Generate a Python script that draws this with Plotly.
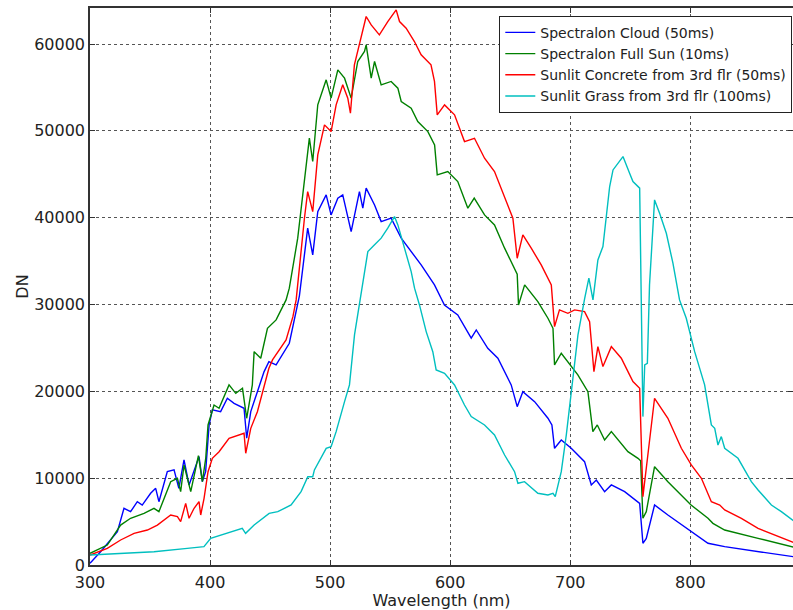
import plotly.graph_objects as go

# ---- data ----
cloud_wl = [300, 308.8, 322.8, 328.3, 333.8, 339.4, 343.5, 350.5, 354.7, 357.4, 364.4, 370, 374, 378.3, 382.5,
            390.8, 393.6, 396.3, 399.2, 401.9, 408.8, 414.4, 420, 428.3, 430.5, 433.9, 439.4, 445, 449, 455, 466,
            474.4, 481.3, 485.5, 489.7, 496.7, 500.8, 506.4, 510.5, 517.5, 524.4, 527.2, 530, 537, 542.5, 550.8,
            559.2, 567.5, 575.8, 586.9, 595.2, 606.3, 617.5, 621.7, 631.3, 639.7, 650.8, 655.8, 660.5, 670.3,
            681.4, 684.7, 686.9, 692.5, 700.8, 711.9, 717.5, 721.7, 728.6, 734.2, 745.3, 757.8, 760.5, 763.3,
            770.2, 781.3, 800.8, 814.7, 828.6, 856.4, 886]
cloud_dn = [200, 1530, 3840, 6530, 6140, 7290, 6900, 8260, 8830, 7290, 10750, 10950, 8830, 12100, 9220,
            12480, 9600, 10750, 16130, 17860, 17660, 19200, 18620, 18050, 14600, 17670, 19960, 22270, 23420, 23040, 25540,
            31000, 38790, 35710, 40700, 42630, 40320, 42250, 42630, 38400, 43010, 41090, 43400, 41470, 39550, 39940,
            37640, 36100, 34560, 32260, 29950, 28800, 26120, 27070, 24960, 23810, 20740, 18240, 19960, 18810,
            16900, 16130, 13440, 14400, 13440, 11900, 9220, 9790, 8450, 9220, 8450, 7100, 2500, 3070,
            6910, 5760, 3840, 2500, 2110, 1530, 950]

sun_wl = [300, 314.4, 325.5, 333.8, 345, 353.3, 357.4, 367.2, 372.8, 375.5, 378.3, 383.9, 390.3, 393.6, 396.4,
          398.3, 403.3, 407.5, 415.8, 421.4, 427, 430.5, 435.2, 436.7, 442.2, 447.8, 455, 463.3, 466, 473,
          482.7, 485.5, 489.7, 496.7, 500.8, 506.4, 512, 517.5, 523, 528.6, 530, 534.2, 537, 542.5, 550.8,
          556.4, 559.2, 567.5, 573, 581.4, 587, 589.2, 598, 606.3, 614.7, 620, 628.6, 636.9, 645.3, 653.6,
          655.8, 656.9, 662, 673, 681.4, 685.6, 686.9, 692.5, 698, 706.3, 714.7, 718.8, 722.5, 728.6, 734.2,
          748, 756.4, 758.6, 760.5, 763.3, 770.2, 781.3, 800.6, 814.7, 818.8, 828.6, 856.4, 886]
sun_dn = [1340, 2300, 4600, 5380, 5950, 6530, 6140, 9600, 9990, 8450, 11520, 8450, 12600, 9600, 12300,
          16130, 18430, 18050, 20740, 19770, 20350, 16900, 20740, 24570, 23810, 27260, 28230, 30530, 31880, 37640,
          49160, 46470, 53000, 55880, 53770, 57030, 56070, 53770, 57990, 59140, 59910, 56070, 57990, 55300, 55690,
          54920, 53380, 52610, 51070, 49920, 48390, 44930, 45310, 44160, 41090, 42250, 40320, 39170, 36490, 34180,
          33500, 29950, 32260, 30330, 28420, 27260, 23040, 24390, 23420, 21890, 19960, 15360, 16130, 14400, 15360,
          13050, 12290, 12000, 5380, 6140, 11320, 9600, 6910, 5380, 4800, 4030, 3070, 2050]

conc_wl = [300, 314.4, 325.5, 336.7, 347.8, 356.1, 367.2, 372.8, 375.5, 379.7, 382.5, 386.7, 390.8, 392.2, 395,
           398.3, 401.9, 407.5, 415.8, 422.8, 428.3, 429.7, 433.9, 439.4, 445, 449, 452, 463.3, 469, 471.7,
           478.6, 481.3, 485.5, 489.7, 495.3, 500.8, 505, 510.5, 514.7, 516.9, 520.2, 524.4, 530, 534.2, 541,
           548, 555, 557.8, 563.3, 570.2, 575.8, 584, 586.9, 589.2, 595.3, 603.6, 611.9, 620.2, 628.6, 636.9,
           645.3, 652.2, 655.8, 660.5, 667.5, 675.8, 684.2, 686.9, 691, 698, 703.6, 711.9, 716.1, 719.7, 723,
           727.2, 734.2, 742.5, 749.4, 752.2, 757.8, 760.5, 763.3, 770.2, 781.3, 792.5, 800.8, 809.2, 817.5,
           824.5, 828.6, 842.5, 856.4, 870.3, 886]
conc_dn = [1150, 1920, 2880, 3650, 4030, 4600, 5760, 5570, 4990, 7100, 5380, 6530, 7290, 5760, 7680,
           10750, 12290, 13050, 14600, 14970, 15170, 12870, 15740, 17660, 20740, 22660, 23620, 25920, 28600, 30530,
           39940, 43010, 40700, 47230, 50690, 49920, 52990, 55300, 53770, 52030, 57600, 59910, 63170, 62200, 61060,
           62590, 63940, 62590, 61830, 60290, 58760, 57600, 55690, 51840, 52990, 51840, 48770, 49150, 46850, 45310,
           42250, 39940, 35330, 38020, 36490, 34560, 32260, 27450, 29380, 28990, 29380, 29180, 28030, 22270, 25150,
           22850, 25150, 23810, 21890, 21120, 20350, 7870, 11140, 19200, 16900, 13440, 11520, 9990, 7290,
           6910, 6340, 5380, 4220, 3460, 2600]

grass_wl = [300, 325.5, 353.3, 381, 394.9, 400.5, 417, 426.8, 429.6, 436.7, 449.2, 456.4, 467.5, 475.8, 481.4,
            485.5, 486.9, 496.7, 500.8, 505, 512, 516.1, 520.3, 524.4, 527.2, 531.4, 537, 542.5, 548, 553.6,
            556.4, 561.9, 567.5, 570.3, 574.4, 580, 585.5, 588.3, 595.3, 603.6, 611.9, 617.5, 628.6, 636.9,
            645.3, 653.6, 656.4, 661.9, 673, 681.4, 685.6, 687.5, 692.5, 696.7, 700.8, 706.4, 712, 715.5,
            718.9, 723, 727.2, 732.8, 735.6, 743.9, 749.4, 752.2, 757.8, 759.1, 760.5, 762, 764.2, 766, 770.2,
            774.4, 780, 785.5, 791, 796.6, 803.6, 811.9, 817.5, 820.3, 823, 825.8, 828.6, 839.7, 850.8, 856.4,
            867.5, 875.8, 886]
grass_dn = [1150, 1340, 1530, 1920, 2110, 3070, 3840, 4220, 3650, 4600, 5950, 6140, 6910, 8450, 10170,
            10170, 10950, 13440, 13630, 15360, 18810, 20740, 26500, 29950, 32260, 36100, 36870, 37640, 38790, 40130,
            39170, 36490, 33790, 31880, 29950, 26880, 24570, 22460, 22080, 20740, 18430, 17090, 16130, 14980,
            12670, 10750, 9410, 9600, 8260, 8070, 8260, 7870, 10750, 14980, 19960, 26500, 30720, 33030,
            30530, 35140, 36670, 43590, 45500, 47040, 45120, 44160, 43400, 30530, 17090, 23040, 23230, 32260, 42050,
            40520, 38210, 34760, 30530, 28420, 24570, 20740, 16130, 15740, 13820, 14790, 13440, 12290, 9600, 8640,
            6910, 6140, 5100]

names = ["Spectralon Cloud (50ms)", "Spectralon Full Sun (10ms)",
         "Sunlit Concrete from 3rd flr (50ms)", "Sunlit Grass from 3rd flr (100ms)"]
colors = ["#0000FF", "#008000", "#FF0000", "#00BFBF"]
x_ticks = [300, 400, 500, 600, 700, 800]
y_ticks = [0, 10000, 20000, 30000, 40000, 50000, 60000]

fig = go.Figure()
for wl, dn, nm, col in zip([cloud_wl, sun_wl, conc_wl, grass_wl],
                           [cloud_dn, sun_dn, conc_dn, grass_dn], names, colors):
    fig.add_trace(go.Scatter(x=wl, y=dn, mode="lines", name=nm,
                             line=dict(color=col, width=1.4)))

font = "DejaVu Sans, Liberation Sans, sans-serif"
axis_common = dict(showline=True, linecolor="#333333", linewidth=1.5, mirror="allticks",
                   ticks="inside", ticklen=5, tickcolor="#333333",
                   showgrid=True, gridcolor="#555555", gridwidth=1, griddash="dot",
                   zeroline=False, tickfont=dict(family=font, size=16, color="#222222"))

fig.update_xaxes(range=[300, 885.5], tickvals=x_ticks, ticktext=[str(v) for v in x_ticks],
                 ticklabelstandoff=2,
                 title=dict(text="Wavelength (nm)", font=dict(family=font, size=16, color="#222222"), standoff=2),
                 **axis_common)
fig.update_yaxes(range=[0, 64150], tickvals=y_ticks, ticktext=[str(v) for v in y_ticks],
                 title=dict(text="DN", font=dict(family=font, size=16, color="#222222"), standoff=2),
                 **axis_common)

fig.update_layout(
    width=793, height=610,
    margin=dict(l=90, r=0, t=8, b=45, autoexpand=False),
    paper_bgcolor="white", plot_bgcolor="white",
    font=dict(family=font, color="#222222"),
    legend=dict(x=0.999, y=0.986, xanchor="right", yanchor="top",
                bgcolor="white", bordercolor="#222222", borderwidth=1,
                font=dict(family=font, size=14, color="#222222"),
                itemwidth=30, tracegroupgap=0),
    showlegend=True,
)

fig.write_html("out.html")
